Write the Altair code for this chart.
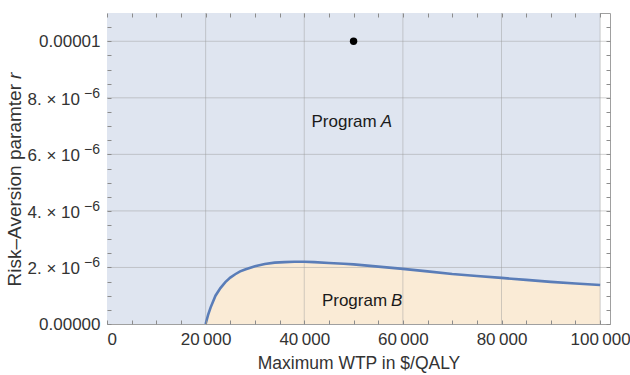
import altair as alt
import pandas as pd

# Boundary curve r*(WTP) separating the two preferred programs
wtp = [20000, 20500, 21000, 22000, 23000, 24000, 25000, 26000, 27000, 28000,
       30000, 32000, 34000, 36000, 38000, 40000, 42000, 45000, 48000, 50000,
       55000, 60000, 65000, 70000, 75000, 80000, 85000, 90000, 95000, 100000]
r_e6 = [0.0, 0.32, 0.58, 1.00, 1.27, 1.48, 1.64, 1.76, 1.86, 1.93,
        2.04, 2.12, 2.17, 2.19, 2.20, 2.20, 2.19, 2.16, 2.13, 2.11,
        2.03, 1.95, 1.86, 1.77, 1.70, 1.63, 1.56, 1.49, 1.43, 1.38]

# Base case point
point_wtp = [50000]
point_r = [1e-5]

# Region labels: plain word + italic letter
label_word = ["Program", "Program"]
label_letter = ["A", "B"]
label_wtp = [55100, 57200]
label_r = [6.97e-6, 0.64e-6]

# Plotted region and axis ticks
region_wtp = [0, 100000]
region_r = [0, 1.1e-5]
X_MAX = 102000
Y_MAX = 1.1e-5
x_major = [0, 20000, 40000, 60000, 80000, 100000]
y_plain = [0, 1e-5]
y_sci = [2e-6, 4e-6, 6e-6, 8e-6]
y_sci_mantissa = ["2. \u00d7 10", "4. \u00d7 10", "6. \u00d7 10", "8. \u00d7 10"]
y_sci_exponent = ["\u22126", "\u22126", "\u22126", "\u22126"]
x_minor = list(range(0, 100001, 5000))
y_minor = [i * 0.5e-6 for i in range(0, 22)]
x_grid = [20000, 40000, 60000, 80000, 100000]
y_grid = [2e-6, 4e-6, 6e-6, 8e-6, 1e-5]

FONT = "Liberation Sans"
TXT = "#333333"
W, H = 503, 311

curve = pd.DataFrame({"wtp": wtp, "r": [v * 1e-6 for v in r_e6]})
region = pd.DataFrame({"x0": [region_wtp[0]], "x1": [region_wtp[1]],
                       "y0": [region_r[0]], "y1": [region_r[1]]})
pt = pd.DataFrame({"wtp": point_wtp, "r": point_r})
labels = pd.DataFrame({"wtp": label_wtp, "r": label_r,
                       "word": label_word, "letter": label_letter})
sci = pd.DataFrame({"r": y_sci, "mant": y_sci_mantissa, "expo": y_sci_exponent})
vg = pd.DataFrame({"wtp": x_grid})
hg = pd.DataFrame({"r": y_grid})
ytitle = pd.DataFrame({"word": ["Risk\u2013Aversion paramter"], "sym": ["r"]})

xs = alt.Scale(domain=[0, X_MAX], nice=False, zero=False)
ys = alt.Scale(domain=[0, Y_MAX], nice=False, zero=False)


def tick_axis(orient, values):
    # inward frame ticks: axis line shifted inside, ticks pointing back to the frame
    return alt.Axis(orient=orient, values=values, labels=False, title=None,
                    domain=False, grid=False, tickSize=4, offset=-4, zindex=1,
                    tickColor="#8c8c8c", tickWidth=1)


x_label_axis = alt.Axis(
    orient="bottom", values=x_major, grid=False, domain=False, ticks=False,
    labelPadding=7, labelFontSize=17, labelFont=FONT, labelColor=TXT,
    labelExpr="replace(format(datum.value, ','), ',', '\u2009')",
    title="Maximum WTP in $/QALY", titleFont=FONT, titleFontSize=17.5,
    titleFontWeight="normal", titleColor=TXT, titlePadding=7,
)
y_label_axis = alt.Axis(
    orient="left", values=y_plain, grid=False, domain=False, ticks=False,
    labelPadding=7, labelFontSize=17, labelFont=FONT, labelColor=TXT,
    labelExpr="datum.value == 0 ? '0.00000' : '0.00001'",
    title=None,
)

bg = alt.Chart(region).mark_rect(color="#dfe5f0").encode(
    x=alt.X("x0:Q", scale=xs, axis=x_label_axis),
    x2="x1:Q",
    y=alt.Y("y0:Q", scale=ys, axis=y_label_axis),
    y2="y1:Q",
)

area = alt.Chart(curve).mark_area(color="#faebd6").encode(
    x=alt.X("wtp:Q", scale=xs, axis=tick_axis("bottom", x_minor)),
    y=alt.Y("r:Q", scale=ys, axis=tick_axis("left", y_minor)),
)

vgrid = alt.Chart(vg).mark_rule(color="#9a9a9a", opacity=0.45, strokeWidth=1).encode(
    x=alt.X("wtp:Q", scale=xs, axis=tick_axis("top", x_minor)),
    y=alt.datum(0, scale=ys, axis=None),
    y2=alt.datum(Y_MAX),
)

hgrid = alt.Chart(hg).mark_rule(color="#9a9a9a", opacity=0.45, strokeWidth=1).encode(
    y=alt.Y("r:Q", scale=ys, axis=tick_axis("right", y_minor)),
    x=alt.datum(0, scale=xs, axis=None),
    x2=alt.datum(X_MAX),
)

line = alt.Chart(curve).mark_line(color="#5a7db8", strokeWidth=2.6).encode(
    x=alt.X("wtp:Q", scale=xs, axis=None),
    y=alt.Y("r:Q", scale=ys, axis=None),
)

dot = alt.Chart(pt).mark_circle(color="black", size=55, opacity=1).encode(
    x=alt.X("wtp:Q", scale=xs, axis=None),
    y=alt.Y("r:Q", scale=ys, axis=None),
)

words = alt.Chart(labels).mark_text(
    align="right", baseline="alphabetic", dx=-2, font=FONT, fontSize=17, color="#1a1a1a"
).encode(
    x=alt.X("wtp:Q", scale=xs, axis=None),
    y=alt.Y("r:Q", scale=ys, axis=None),
    text="word:N",
)

letters = alt.Chart(labels).mark_text(
    align="left", baseline="alphabetic", dx=2, font=FONT, fontSize=17,
    fontStyle="italic", color="#1a1a1a"
).encode(
    x=alt.X("wtp:Q", scale=xs, axis=None),
    y=alt.Y("r:Q", scale=ys, axis=None),
    text="letter:N",
)

# y tick labels in scientific form, with a raised exponent
sci_mant = alt.Chart(sci).mark_text(
    align="right", baseline="alphabetic", dx=-27, dy=7, font=FONT, fontSize=17, color=TXT
).encode(
    x=alt.datum(0, scale=xs, axis=None),
    y=alt.Y("r:Q", scale=ys, axis=None),
    text="mant:N",
)
sci_exp = alt.Chart(sci).mark_text(
    align="right", baseline="alphabetic", dx=-7, dy=0, font=FONT, fontSize=14, color=TXT
).encode(
    x=alt.datum(0, scale=xs, axis=None),
    y=alt.Y("r:Q", scale=ys, axis=None),
    text="expo:N",
)

# y axis title with an italic symbol
title_word = alt.Chart(ytitle).mark_text(
    align="right", baseline="alphabetic", angle=270, dx=-2, font=FONT, fontSize=19, color=TXT
).encode(x=alt.value(-86), y=alt.value(69), text="word:N")
title_sym = alt.Chart(ytitle).mark_text(
    align="left", baseline="alphabetic", angle=270, dx=3, font=FONT, fontSize=19,
    fontStyle="italic", color=TXT
).encode(x=alt.value(-86), y=alt.value(69), text="sym:N")

chart = (
    alt.layer(bg, area, vgrid, hgrid, line, dot, words, letters,
              sci_mant, sci_exp, title_word, title_sym)
    .resolve_axis(x="independent", y="independent")
    .properties(
        width=W, height=H,
        autosize=alt.AutoSizeParams(type="none"),
        padding={"left": 107, "top": 13, "right": 20, "bottom": 51},
        background="white",
    )
    .configure_view(stroke="#a0a0a0", strokeWidth=1)
)

chart.save("out.html", embed_options={"renderer": "svg", "actions": False})
